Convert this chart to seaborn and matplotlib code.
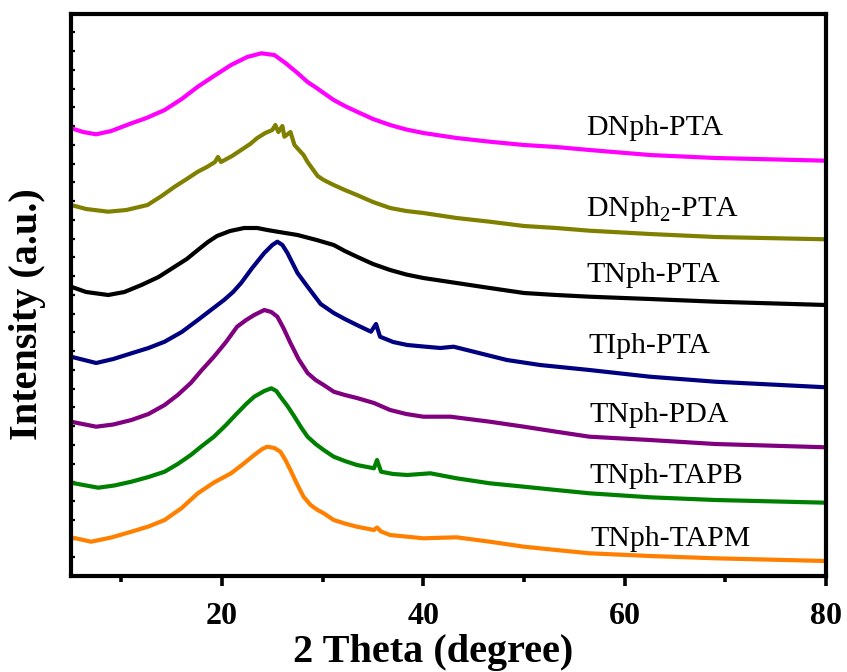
import numpy as np
import pandas as pd
import matplotlib
matplotlib.use("Agg")
import matplotlib.pyplot as plt
from matplotlib.ticker import MultipleLocator
import seaborn as sns

# ---- data (2theta in degrees, stacked intensity a.u.) ----
samples = ["DNph-PTA", "DNph$_\\mathregular{2}$-PTA", "TNph-PTA", "TIph-PTA",
           "TNph-PDA", "TNph-TAPB", "TNph-TAPM"]
colors = ["#FF00FF", "#808000", "#000000", "#000080", "#800080", "#008000", "#FF8000"]

dnph_pta_x = [5.05, 6.2, 7.5, 9.0, 11.0, 12.5, 14.3, 16.0, 17.6, 19.2, 20.9, 22.5, 23.9, 25.2,
              26.3, 27.5, 28.5, 29.4, 30.1, 31.1, 32.2, 33.4, 35.0, 36.7, 38.3, 40, 43.3, 46.6,
              50, 53.2, 56.5, 62.5, 69, 80]
dnph_pta_y = [447.7, 444, 441.7, 445, 452.7, 458, 466, 477, 489.3, 500, 511, 519, 522.7, 521,
              513, 503, 494, 488, 483, 476, 470, 464.3, 457, 451, 446.5, 443, 438, 434.3,
              431, 429, 426, 421, 418, 415.3]

dnph2_pta_x = [5, 6.5, 8.7, 10.5, 12.6, 14.0, 15.3, 16.5, 17.6, 18.5, 19.3, 19.6, 19.9, 21.0,
               21.9, 22.8, 23.5, 24.3, 25.0, 25.3, 25.6, 26.0, 26.2, 26.8, 27.2, 28.1, 28.5,
               29.5, 30.1, 31.1, 32.2, 33.4, 35.0, 36.7, 38.3, 40, 43.3, 46.6, 50, 53.2, 56.5,
               62.5, 69, 80]
dnph2_pta_y = [371, 367, 364.3, 366, 371, 380, 389.3, 397, 404.3, 409, 414, 419, 414, 420,
               426, 432, 438, 443, 446, 451, 444, 450, 439.3, 444, 431, 421, 414,
               400, 396, 391, 386, 381, 374, 368, 365, 363, 358, 354.3, 350, 348, 345.3,
               342, 339, 336.7]

tnph_pta_x = [5, 6.5, 8.7, 10.3, 12, 13.7, 15.3, 16.5, 17.6, 18.6, 19.5, 20.8, 22.2, 23.5, 24.5,
              25.5, 27.5, 29.4, 31.1, 32.2, 33.4, 35.0, 36.7, 38.3, 40, 43.3, 46.6, 50, 53.2,
              56.5, 62.5, 69, 80]
tnph_pta_y = [289.3, 284, 281, 284, 291, 299, 309.3, 317, 326, 334, 340, 345, 348, 348, 346,
              344.3, 341, 336, 331, 325, 319.3, 312, 306, 301.5, 298, 293, 288, 283, 281,
              279.3, 277, 274.3, 271]

tiph_pta_x = [5, 7.5, 9.2, 11, 12.7, 14.3, 16.0, 17.6, 18.9, 20.2, 21.1, 21.9, 23.0, 24.2, 25.0,
              25.5, 26.0, 26.5, 27.0, 27.5, 28.5, 29.8, 31.1, 32.2, 33.4, 34.8, 35.3, 35.7, 37.0,
              38.4, 40.0, 41.7, 43, 45, 48.3, 51.6, 56.5, 62.5, 69, 80]
tiph_pta_y = [219.3, 213, 217, 222.7, 228, 234.3, 244, 256, 266, 276, 284, 293, 308, 323, 331,
              334.3, 331, 323, 313, 303, 289.3, 272, 263, 257, 251, 244.3, 252, 239.3, 234,
              231, 229.5, 228, 229.3, 224.3, 216, 211, 206, 199.3, 194.3, 188.7]

tnph_pda_x = [5, 7.5, 9.2, 11, 12.7, 14.3, 15.6, 16.9, 18.0, 19.2, 20.4, 21.5, 22.4, 23.2, 24.2,
              24.9, 25.5, 26.1, 26.8, 27.6, 28.5, 29.3, 30.1, 31.1, 32.2, 33.4, 35.1, 36.7, 38.3,
              40, 42.7, 46.6, 50, 53.2, 56.5, 62.5, 69, 80]
tnph_pda_y = [154.3, 149.3, 151.5, 156, 162, 171, 181, 193, 206, 219.3, 234, 249.3, 256, 261, 266,
              264, 259.3, 248, 233, 217, 203, 196, 191, 184.3, 181, 178, 173, 166, 162,
              159.3, 159.3, 154.3, 149.3, 144.3, 139.3, 136, 132, 128.7]

tnph_tapb_x = [5, 7.7, 9.3, 11, 12.7, 14.3, 15.6, 16.9, 18.0, 19.2, 20.4, 21.5, 22.4, 23.2, 24.2,
               24.9, 25.4, 25.8, 26.5, 27.2, 27.9, 28.5, 29.3, 30.1, 31.1, 32.2, 33.4, 35.1,
               35.4, 35.8, 37.0, 38.4, 40.7, 43.3, 46.6, 50, 53.2, 56.5, 62.5, 69, 80]
tnph_tapb_y = [93.3, 88.3, 90.5, 94.3, 99, 104.3, 112, 121, 130, 139.3, 151, 162.7, 172, 179.3, 185,
               187.7, 185, 179.3, 170, 159.3, 148, 139.3, 132, 126, 119.3, 115, 111, 107.7,
               116, 104.3, 102, 101, 102.7, 97.7, 92.7, 89.3, 86, 82.7, 78.7, 76, 73.3]

tnph_tapm_x = [5, 7, 9, 11, 12.7, 14.3, 16.0, 17.6, 19.2, 20.9, 22.1, 23.2, 24.0, 24.5, 25.2,
               25.8, 26.3, 26.8, 27.4, 28.1, 28.8, 29.5, 30.1, 31.1, 32.2, 33.4, 35.1, 35.4,
               35.8, 36.7, 40, 43.3, 46.6, 50, 53.2, 56.5, 62.5, 69, 80]
tnph_tapm_y = [38.7, 34.3, 38.5, 44.3, 49.5, 56, 68, 82.7, 93.5, 102.7, 112, 121, 127, 129.3, 128,
               124.3, 116, 106, 93, 79.3, 71, 66, 62.7, 56, 52.5, 49.3, 46, 48.5,
               44.5, 41, 37.7, 38.7, 34.3, 29.3, 26, 22.7, 20, 17.7, 15]

series_x = [dnph_pta_x, dnph2_pta_x, tnph_pta_x, tiph_pta_x, tnph_pda_x, tnph_tapb_x, tnph_tapm_x]
series_y = [dnph_pta_y, dnph2_pta_y, tnph_pta_y, tiph_pta_y, tnph_pda_y, tnph_tapb_y, tnph_tapm_y]

# label anchor (2theta, intensity) for the sample names
label_x = [56.2, 56.2, 56.2, 56.4, 56.5, 56.5, 56.6]
label_y = [441, 359.5, 293.5, 223, 154.5, 93, 30]

# ---- build long table ----
frames = []
for name, xs, ys in zip(samples, series_x, series_y):
    frames.append(pd.DataFrame({"two_theta": xs, "intensity": ys, "sample": name}))
df = pd.concat(frames, ignore_index=True)

sns.set_style("ticks")
plt.rcParams["font.family"] = ["Liberation Serif", "DejaVu Serif"]
plt.rcParams["mathtext.fontset"] = "custom"
plt.rcParams["mathtext.rm"] = "Liberation Serif"
plt.rcParams["text.color"] = "black"
plt.rcParams["axes.labelcolor"] = "black"
plt.rcParams["xtick.color"] = "black"
plt.rcParams["ytick.color"] = "black"

fig = plt.figure(figsize=(8.47, 6.72), dpi=100)
ax = fig.add_axes([71 / 847, 1 - 576 / 672, 755 / 847, 562 / 672])

sns.lineplot(data=df, x="two_theta", y="intensity", hue="sample", hue_order=samples,
             palette=dict(zip(samples, colors)), estimator=None, sort=False,
             linewidth=3.0, legend=False, ax=ax)

for name, tx, ty in zip(samples, label_x, label_y):
    ax.text(tx, ty, name, fontsize=21.5, color="black", ha="left", va="baseline")

ax.set_xlim(5, 80)
ax.set_ylim(0, 562)
ax.xaxis.set_major_locator(MultipleLocator(20))
ax.xaxis.set_minor_locator(MultipleLocator(10))
ax.yaxis.set_major_locator(MultipleLocator(18.75))
ax.set_yticklabels([])

for s in ax.spines.values():
    s.set_linewidth(3.0)
    s.set_color("black")

ax.tick_params(axis="x", which="major", direction="out", length=7, width=2.6,
               labelsize=23, pad=12, colors="black")
ax.tick_params(axis="x", which="minor", direction="out", length=4, width=2.6)
ax.tick_params(axis="y", which="both", direction="in", length=3, width=1.6, left=True,
               labelleft=False)
for lab in ax.get_xticklabels():
    lab.set_fontweight("bold")

ax.set_xlabel("2 Theta (degree)", fontsize=29, fontweight="bold")
ax.set_ylabel("Intensity (a.u.)", fontsize=29, fontweight="bold")
# label placement measured in the reference (figure pixels)
ax.xaxis.set_label_coords((433 - 71) / 755, -(671 - 576) / 562, transform=ax.transAxes)
ax.xaxis.label.set_va("bottom")
ax.yaxis.set_label_coords(-(71 - 28) / 755, (576 - 314) / 562, transform=ax.transAxes)
ax.yaxis.label.set_va("center")

fig.savefig("out.png", dpi=100)
